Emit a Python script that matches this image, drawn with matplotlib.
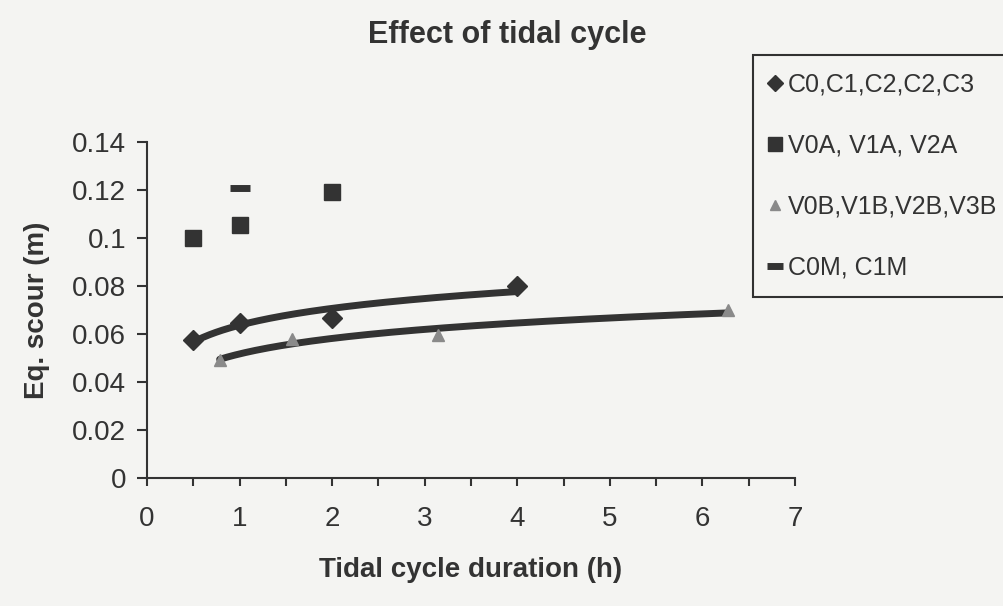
import numpy as np
import matplotlib.pyplot as plt

plt.rcParams['font.family'] = ['Liberation Sans', 'DejaVu Sans']

# data
c_x = [0.5, 1, 2, 4]
c_y = [0.0575, 0.0645, 0.0665, 0.0802]
va_x = [0.5, 1, 2]
va_y = [0.100, 0.1055, 0.119]
vb_x = [0.785, 1.57, 3.14, 6.28]
vb_y = [0.049, 0.058, 0.0595, 0.070]
cm_x = [1]
cm_y = [0.121]

bg = '#f4f4f2'
ink = '#333333'

fig = plt.figure(figsize=(10.04, 6.06), dpi=100, facecolor=bg)
ax = fig.add_axes([0.1464, 0.2112, 0.6454, 0.5545], facecolor=bg)

ax.plot(c_x, c_y, 'D', color=ink, ms=10, label='C0,C1,C2,C2,C3', zorder=4)
ax.plot(va_x, va_y, 's', color=ink, ms=12, label='V0A, V1A, V2A', zorder=4)
ax.plot(vb_x, vb_y, '^', color='#8a8a8a', ms=9, label='V0B,V1B,V2B,V3B', zorder=4)
ax.plot(cm_x, cm_y, '_', color=ink, ms=14, mew=5, label='C0M, C1M', zorder=4)

# logarithmic trendlines (Excel style)
for xs, ys in [(c_x, c_y), (vb_x, vb_y)]:
    a, b = np.polyfit(np.log(xs), ys, 1)
    xx = np.linspace(min(xs), max(xs), 200)
    ax.plot(xx, a * np.log(xx) + b, color=ink, lw=5, solid_capstyle='round',
            label='_nolegend_', zorder=3)

ax.set_xlim(0, 7)
ax.set_ylim(0, 0.14)
ax.set_xticks(range(0, 8))
ax.set_xticks(np.arange(0.5, 7, 1), minor=True)
ax.set_yticks(np.arange(0, 0.141, 0.02))
ax.set_yticklabels(['0', '0.02', '0.04', '0.06', '0.08', '0.1', '0.12', '0.14'])

for s in ['top', 'right']:
    ax.spines[s].set_visible(False)
for s in ['left', 'bottom']:
    ax.spines[s].set_color(ink)
    ax.spines[s].set_linewidth(1.5)

ax.tick_params(axis='both', which='both', colors=ink, width=1.5, labelsize=20,
               labelcolor=ink)
ax.tick_params(axis='x', which='both', direction='out', length=6, pad=14)
ax.tick_params(axis='y', length=7, pad=8)

ax.set_xlabel('Tidal cycle duration (h)', fontsize=20, fontweight='bold',
              color=ink, labelpad=18)
ax.set_ylabel('Eq. scour (m)', fontsize=20, fontweight='bold', color=ink,
              labelpad=16)
fig.text(0.505, 0.943, 'Effect of tidal cycle', fontsize=22, fontweight='bold',
         color=ink, ha='center', va='center')

leg = fig.legend(loc='upper left', bbox_to_anchor=(0.75, 0.909),
                 bbox_transform=fig.transFigure, fontsize=18, frameon=True,
                 fancybox=False, handlelength=0.4, handletextpad=0.3,
                 labelspacing=1.48, borderpad=0.7, borderaxespad=0,
                 facecolor=bg, edgecolor='black', markerscale=0.8)
leg.get_frame().set_linewidth(1.5)
for t in leg.get_texts():
    t.set_color(ink)

fig.savefig('out.png', dpi=100, facecolor=bg)
